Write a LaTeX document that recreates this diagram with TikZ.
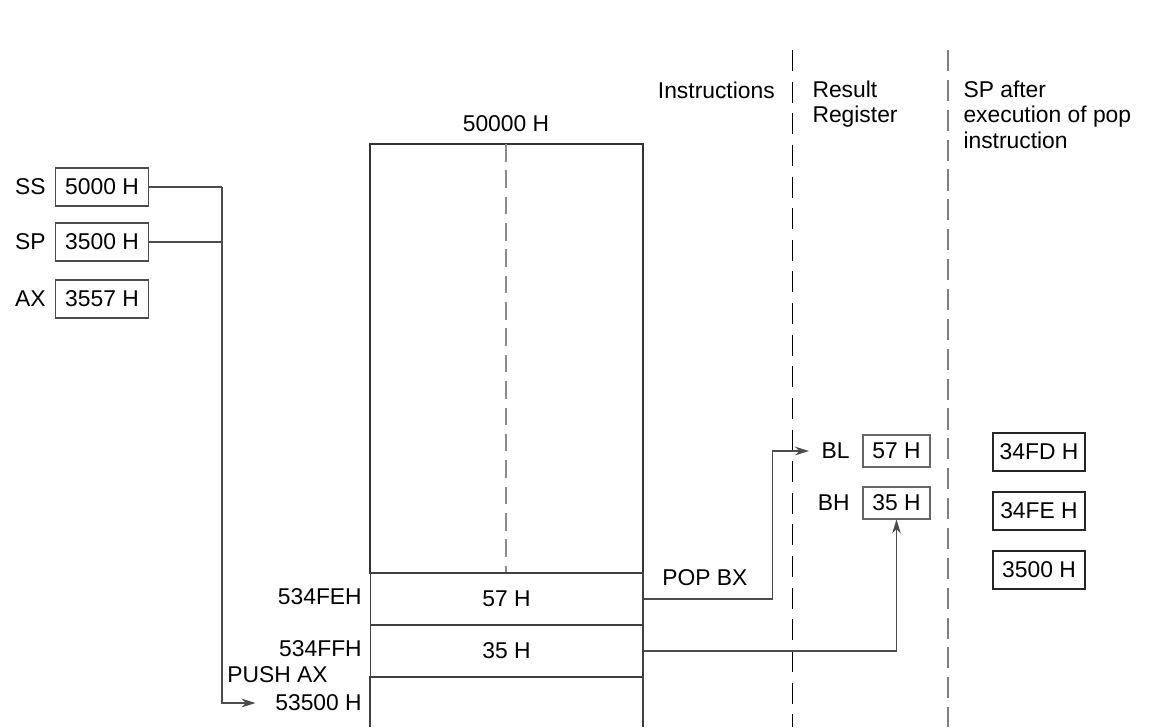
\documentclass[tikz,border=0pt]{standalone}
\usepackage{fontspec}
\setmainfont{Liberation Sans}
\usetikzlibrary{positioning,arrows.meta}
\begin{document}
\begin{tikzpicture}[x=0.02cm, y=-0.02cm, line width=0.6pt,
  font=\fontsize{13}{14.5}\selectfont,
  reg/.style={draw=black!70, minimum width=1.86cm, minimum height=0.76cm, inner sep=1pt},
  small reg/.style={draw=black!60, minimum width=1.34cm, minimum height=0.64cm, inner sep=1pt},
  sp reg/.style={draw=black!85, line width=1pt, minimum width=1.84cm, minimum height=0.76cm, inner sep=1pt},
  cell/.style={draw=black!75, minimum width=5.46cm, minimum height=1.04cm, inner sep=0pt},
  wire/.style={draw=black!70},
  tip/.style={-{Stealth[length=8pt, width=5pt]}}]
  \useasboundingbox (0,0) rectangle (1149,727);
  % registers before push
  \node[reg] (ss) at (102,187) {5000 H};
  \node[reg] (sp) at (102,242) {3500 H};
  \node[reg] (ax) at (102,299) {3557 H};
  \node[left=4pt of ss, inner sep=1pt] (ssl) {SS};
  \node[left=4pt of sp, inner sep=1pt] (spl) {SP};
  \node[left=4pt of ax, inner sep=1pt] (axl) {AX};
  % stack segment
  \node[anchor=south] (segtop) at (506,138) {50000 H};
  \draw[black!80] (370,573) rectangle (643,144);
  \draw[black!45, line width=1.2pt, dash pattern=on 10pt off 5pt] (506,144) -- (506,573);
  \node[cell] (c57) at (506.5,599) {57 H};
  \node[cell] (c35) at (506.5,651) {35 H};
  \draw[black!75] (370,727) -- (370,677) -- (643,677) -- (643,727);
  \node[anchor=east, inner sep=1pt] (a57) at (364,597) {534FEH};
  \node[anchor=east, inner sep=1pt] (a35) at (364,649) {534FFH};
  \node[anchor=east, inner sep=1pt] (push) at (330,675) {PUSH AX};
  \node[anchor=east, inner sep=1pt] (a00) at (364,703) {53500 H};
  % SS:SP pointer to top of stack
  \coordinate (jn) at (222,187);
  \draw[wire] (ss.east) -- (jn);
  \draw[wire] (sp.east) -- (sp.east -| jn);
  \draw[wire, tip, shorten >=10pt] (jn) |- (a00.west);
  % column separators
  \draw[black, line width=0.5pt, dash pattern=on 12pt off 6pt] (792,50) -- (792,727);
  \draw[black!50, line width=1.5pt, dash pattern=on 12pt off 5pt] (948,50) -- (948,727);
  % headings
  \node[anchor=east, inner sep=1pt] (hins) at (777,90) {Instructions};
  \node[anchor=north west, align=left, inner sep=0pt] (hres) at (812,80) {Result\\Register};
  \node[anchor=north west, align=left, inner sep=0pt] (hsp) at (963,80) {SP after\\execution of pop\\instruction};
  % result registers
  \node[small reg] (rbl) at (896.5,451) {57 H};
  \node[small reg] (rbh) at (896.5,503) {35 H};
  \node[left=6pt of rbl, inner sep=1pt] (bl) {BL};
  \node[left=6pt of rbh, inner sep=1pt] (bh) {BH};
  \node[anchor=west, inner sep=1pt] (pop) at (660,578) {POP BX};
  \draw[wire, tip, shorten >=6pt] (c57.east) -- ++(129,0) |- (bl.west);
  \draw[wire, tip] (c35.east) -| (rbh.south);
  % SP values
  \node[sp reg] (sp1) at (1039,452) {34FD H};
  \node[sp reg] (sp2) at (1039,511) {34FE H};
  \node[sp reg] (sp3) at (1039,570) {3500 H};
\end{tikzpicture}
\end{document}
